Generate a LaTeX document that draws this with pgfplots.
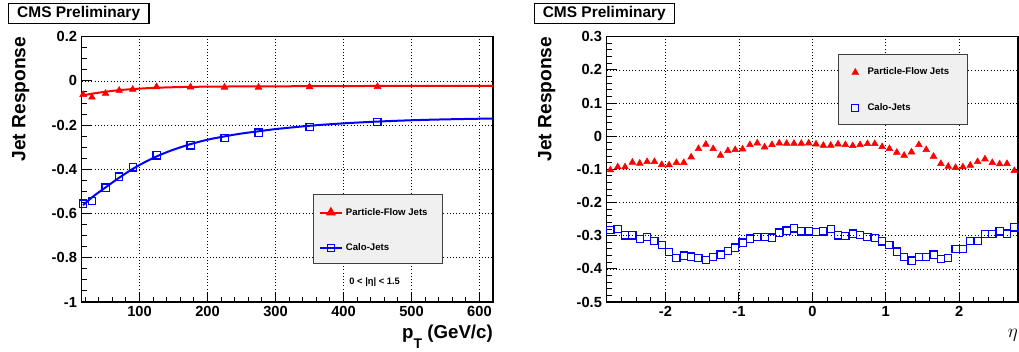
\documentclass[border=0pt]{standalone}
\usepackage{pgfplots}
\pgfplotsset{compat=1.18}
\usepackage{fontspec}
\setmainfont{Liberation Sans}
\definecolor{legfill}{RGB}{240,240,240}
\begin{document}
\begin{tikzpicture}
\useasboundingbox (0,0) rectangle (764.25pt,263.25pt);
\pgfplotsset{
  rootaxis/.style={
    scale only axis, width=308.5pt, height=199pt, anchor=south west,
    axis line style={line width=1pt},
    tick align=inside, xtick pos=bottom, ytick pos=left,
    major tick length=7.5pt, minor tick length=3.75pt,
    tick style={black, line width=0.75pt},
    grid=major,
    major grid style={black, dotted, line width=0.5pt},
    ticklabel style={font=\fontsize{11}{13}\selectfont\bfseries},
    /pgf/number format/assume math mode=true,
    legend cell align=left,
  }
}
% ---------------- left panel ----------------
\begin{axis}[rootaxis, at={(61.3pt,36.75pt)},
  xmin=15, xmax=620, ymin=-1, ymax=0.2,
  xtick={100,200,300,400,500,600},
  minor xtick={20,40,60,80,120,140,160,180,220,240,260,280,320,340,360,380,420,440,460,480,520,540,560,580},
  ytick={-1,-0.8,-0.6,-0.4,-0.2,0,0.2}, minor y tick num=3,
  legend style={at={(0.575,0.270)}, anchor=west, draw=none, fill=none, inner sep=0pt,
    row sep=16pt, font=\fontsize{7.2}{8.6}\selectfont\bfseries},
]
\addplot[red, line width=1.5pt, smooth, forget plot] coordinates {
(17,-0.066) (30,-0.058) (50,-0.049) (70,-0.042) (90,-0.037) (125,-0.031) (175,-0.027) (250,-0.025) (350,-0.024) (450,-0.023) (620,-0.023)};
\addplot[blue, line width=1.5pt, smooth, forget plot] coordinates {
(17,-0.562) (25,-0.540) (35,-0.515) (50,-0.482) (70,-0.438) (90,-0.398) (110,-0.364) (130,-0.335) (150,-0.311) (175,-0.286) (200,-0.266) (225,-0.251) (250,-0.238) (275,-0.228) (300,-0.218) (350,-0.203) (400,-0.192) (450,-0.184) (500,-0.178) (550,-0.174) (620,-0.170)};
\addplot[only marks, red, mark=triangle*, mark size=2.9pt, forget plot] coordinates {
(17,-0.062) (30,-0.074) (50,-0.057) (70,-0.043) (90,-0.039) (125,-0.027) (175,-0.028) (225,-0.029) (275,-0.029) (350,-0.027) (450,-0.026)};
\addplot[only marks, blue, mark=square, mark size=2.7pt, mark options={line width=0.9pt}, forget plot] coordinates {
(17,-0.555) (30,-0.543) (50,-0.483) (70,-0.433) (90,-0.391) (125,-0.337) (175,-0.292) (225,-0.257) (275,-0.234) (350,-0.208) (450,-0.185)};
\filldraw[fill=legfill, draw=black!75, line width=0.9pt] (rel axis cs:0.563,0.146) rectangle (rel axis cs:0.877,0.406);
\node[font=\fontsize{7}{8}\selectfont\bfseries] at (rel axis cs:0.712,0.0765) {0 < |η| < 1.5};
\addlegendimage{red, line width=1.5pt, mark=triangle*, mark size=2.9pt}
\addlegendentry{Particle-Flow Jets}
\addlegendimage{blue, line width=1.5pt, mark=square, mark size=2.7pt, mark options={line width=0.9pt}}
\addlegendentry{Calo-Jets}
\end{axis}
% ---------------- right panel ----------------
\begin{axis}[rootaxis, at={(455pt,36.75pt)},
  xmin=-2.8, xmax=2.8, ymin=-0.5, ymax=0.3,
  xtick={-2,-1,0,1,2},
  minor xtick={-2.8,-2.6,-2.4,-2.2,-1.8,-1.6,-1.4,-1.2,-0.8,-0.6,-0.4,-0.2,0.2,0.4,0.6,0.8,1.2,1.4,1.6,1.8,2.2,2.4,2.6},
  ytick={-0.5,-0.4,-0.3,-0.2,-0.1,0,0.1,0.2,0.3}, minor y tick num=4,
  legend style={at={(0.595,0.798)}, anchor=west, draw=none, fill=none, inner sep=0pt,
    row sep=16pt, column sep=4.5pt, font=\fontsize{7.2}{8.6}\selectfont\bfseries},
]
\addplot[only marks, red, mark=triangle*, mark size=2.9pt] coordinates {
(-2.75,-0.102) (-2.65,-0.093) (-2.55,-0.093) (-2.45,-0.079) (-2.35,-0.082) (-2.25,-0.077) (-2.15,-0.077) (-2.05,-0.086)
(-1.95,-0.087) (-1.85,-0.080) (-1.75,-0.080) (-1.65,-0.063) (-1.55,-0.038) (-1.45,-0.025) (-1.35,-0.038) (-1.25,-0.058)
(-1.15,-0.044) (-1.05,-0.041) (-0.95,-0.039) (-0.85,-0.026) (-0.75,-0.021) (-0.65,-0.033) (-0.55,-0.026) (-0.45,-0.021)
(-0.35,-0.022) (-0.25,-0.022) (-0.15,-0.022) (-0.05,-0.021) (0.05,-0.024) (0.15,-0.028) (0.25,-0.028) (0.35,-0.024)
(0.45,-0.026) (0.55,-0.029) (0.65,-0.026) (0.75,-0.023) (0.85,-0.023) (0.95,-0.032) (1.05,-0.038) (1.15,-0.049)
(1.25,-0.058) (1.35,-0.048) (1.45,-0.026) (1.55,-0.041) (1.65,-0.061) (1.75,-0.083) (1.85,-0.091) (1.95,-0.095)
(2.05,-0.093) (2.15,-0.088) (2.25,-0.077) (2.35,-0.069) (2.45,-0.080) (2.55,-0.084) (2.65,-0.083) (2.75,-0.104)};
\addlegendentry{Particle-Flow Jets}
\addplot[only marks, blue, mark=square, mark size=2.7pt, mark options={line width=0.9pt}] coordinates {
(-2.75,-0.282) (-2.65,-0.280) (-2.55,-0.299) (-2.45,-0.299) (-2.35,-0.310) (-2.25,-0.304) (-2.15,-0.316) (-2.05,-0.328)
(-1.95,-0.349) (-1.85,-0.367) (-1.75,-0.360) (-1.65,-0.363) (-1.55,-0.367) (-1.45,-0.374) (-1.35,-0.364) (-1.25,-0.357)
(-1.15,-0.347) (-1.05,-0.336) (-0.95,-0.321) (-0.85,-0.309) (-0.75,-0.304) (-0.65,-0.304) (-0.55,-0.306) (-0.45,-0.291)
(-0.35,-0.285) (-0.25,-0.278) (-0.15,-0.287) (-0.05,-0.287) (0.05,-0.289) (0.15,-0.287) (0.25,-0.280) (0.35,-0.299)
(0.45,-0.301) (0.55,-0.294) (0.65,-0.298) (0.75,-0.304) (0.85,-0.307) (0.95,-0.317) (1.05,-0.328) (1.15,-0.348)
(1.25,-0.365) (1.35,-0.375) (1.45,-0.364) (1.55,-0.364) (1.65,-0.357) (1.75,-0.370) (1.85,-0.368) (1.95,-0.340)
(2.05,-0.341) (2.15,-0.316) (2.25,-0.316) (2.35,-0.295) (2.45,-0.295) (2.55,-0.287) (2.65,-0.294) (2.75,-0.275)};
\addlegendentry{Calo-Jets}
\filldraw[fill=legfill, draw=black!75, line width=0.9pt] (rel axis cs:0.563,0.670) rectangle (rel axis cs:0.878,0.934);
\end{axis}
% ---------------- titles and labels ----------------
\node[draw, line width=1pt, minimum width=105.5pt, minimum height=15pt, inner sep=0pt,
  font=\fontsize{11.6}{13}\selectfont\bfseries] at (59pt,253.3pt) {CMS Preliminary};
\node[draw, line width=1pt, minimum width=105pt, minimum height=15pt, inner sep=0pt,
  font=\fontsize{11.6}{13}\selectfont\bfseries] at (453.2pt,253.3pt) {CMS Preliminary};
\node[rotate=90, inner sep=0pt, font=\fontsize{14.4}{16}\selectfont\bfseries] at (15.6pt,188.9pt) {Jet Response};
\node[rotate=90, inner sep=0pt, font=\fontsize{14.4}{16}\selectfont\bfseries] at (410.1pt,188.9pt) {Jet Response};
\node[anchor=base east, inner sep=0pt, font=\fontsize{14}{16}\selectfont\bfseries] at (369.75pt,9.5pt)
  {p\raisebox{-7.3pt}{\fontsize{10.5}{12}\selectfont T} (GeV/c)};
\node[anchor=base east, inner sep=0pt] at (763.5pt,10.1pt) {\fontsize{13.5}{15}\selectfont$\eta$};
\end{tikzpicture}
\end{document}
